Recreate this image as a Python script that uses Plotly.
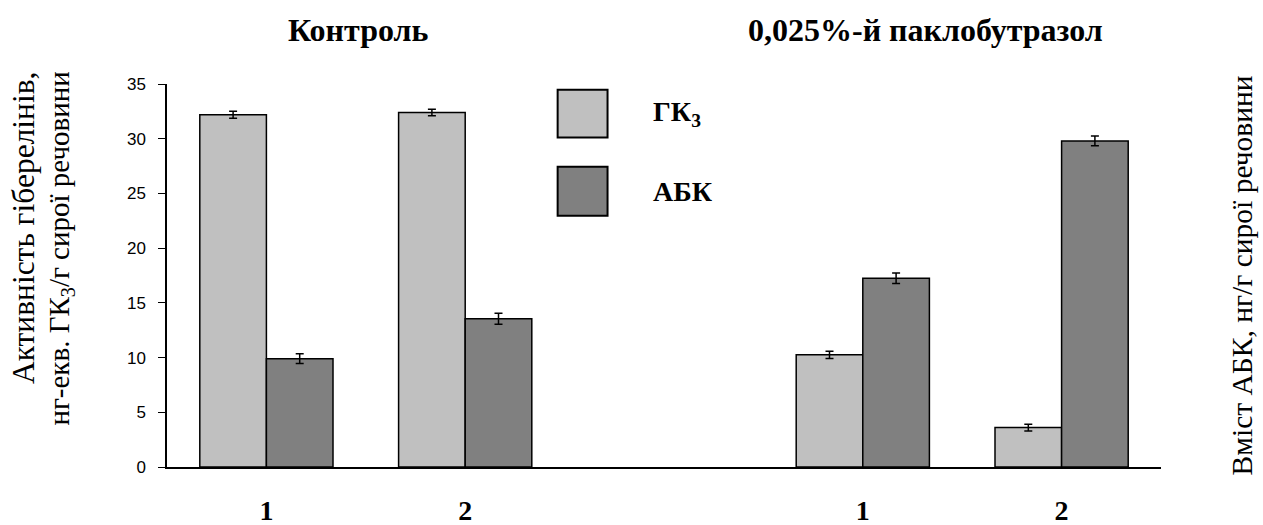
import plotly.graph_objects as go

# Category slots: control (1, 2), empty spacer slot, paclobutrazol (1, 2)
slot_pos = [0, 1, 3, 4]
slot_labels = ["1", "2", "1", "2"]

# Gibberellin activity (GA3 equivalents) and ABA content, ng/g fresh weight
ga3_values = [32.2, 32.4, 10.25, 3.6]
ga3_errors = [0.32, 0.3, 0.33, 0.3]
aba_values = [9.9, 13.55, 17.25, 29.8]
aba_errors = [0.45, 0.5, 0.47, 0.45]

ga3_name = "ГК<sub>3</sub>"
aba_name = "АБК"
group_titles = ["Контроль", "0,025%-й паклобутразол"]

light = "#c0c0c0"
dark = "#808080"
serif = "Liberation Serif"
sans = "Liberation Sans"

fig = go.Figure()
fig.add_trace(go.Bar(
    x=slot_pos, y=ga3_values, name=ga3_name,
    marker=dict(color=light, line=dict(color="black", width=1.5)),
    error_y=dict(type="data", array=ga3_errors, color="black", thickness=1.5, width=4),
))
fig.add_trace(go.Bar(
    x=slot_pos, y=aba_values, name=aba_name,
    marker=dict(color=dark, line=dict(color="black", width=1.5)),
    error_y=dict(type="data", array=aba_errors, color="black", thickness=1.5, width=4),
))

yticks = list(range(0, 36, 5))
axis_common = dict(range=[0, 35], tickvals=yticks, showgrid=False, zeroline=False,
                   tickcolor="black", tickwidth=1, automargin=False)

fig.update_layout(
    width=1263, height=525,
    margin=dict(l=167, r=102, t=84, b=58),
    paper_bgcolor="white", plot_bgcolor="white",
    barmode="group", bargap=0.33, bargroupgap=0,
    showlegend=False,
    xaxis=dict(range=[-0.5, 4.5], tickvals=slot_pos,
               ticktext=[f"<b>{t}</b>" for t in slot_labels],
               showline=True, linecolor="black", linewidth=1.5, ticks="",
               showgrid=False, zeroline=False, ticklabelstandoff=18, automargin=False,
               tickfont=dict(family=serif, size=28, color="black")),
    yaxis=dict(**axis_common, side="left", showline=True, linecolor="black", linewidth=1.5,
               ticks="outside", ticklen=7, ticklabelstandoff=9,
               tickfont=dict(family=sans, size=17, color="black")),
    yaxis3=dict(**axis_common, side="left", overlaying="y", anchor="x",
                ticks="inside", ticklen=6, showticklabels=False, showline=False),
    yaxis2=dict(**axis_common, side="right", overlaying="y", anchor="x",
                showline=True, linecolor="black", linewidth=1.5,
                ticks="outside", ticklen=7, ticklabelstandoff=6,
                tickfont=dict(family=sans, size=17, color="black")),
    yaxis4=dict(**axis_common, side="right", overlaying="y", anchor="x",
                ticks="inside", ticklen=7, showticklabels=False, showline=False),
)

# Group headings
for xp, txt in zip([0.1925, 0.7633], group_titles):
    fig.add_annotation(x=xp, y=1.1417, xref="paper", yref="paper", text=f"<b>{txt}</b>",
                       showarrow=False, xanchor="center", yanchor="middle",
                       font=dict(family=serif, size=32, color="black"))

# Axis titles
fig.add_annotation(x=-0.1437, y=1.038, xref="paper", yref="paper",
                   text="Активність гіберелінів,", textangle=-90, showarrow=False,
                   xanchor="center", yanchor="top",
                   font=dict(family=serif, size=31.5, color="black"))
fig.add_annotation(x=-0.1065, y=1.038, xref="paper", yref="paper",
                   text="нг-екв. ГК<sub>3</sub>/г сирої речовини", textangle=-90, showarrow=False,
                   xanchor="center", yanchor="top",
                   font=dict(family=serif, size=29, color="black"))
fig.add_annotation(x=1.0814, y=0.5, xref="paper", yref="paper",
                   text="Вміст АБК, нг/г сирої речовини", textangle=-90, showarrow=False,
                   xanchor="center", yanchor="middle",
                   font=dict(family=serif, size=29.5, color="black"))

# Legend: large swatches with bold labels
legend_items = [(ga3_name, light, 0.985, 0.860), (aba_name, dark, 0.784, 0.656)]
for name, color, y1, y0 in legend_items:
    fig.add_shape(type="rect", xref="paper", yref="paper", x0=0.393, x1=0.4432, y0=y0, y1=y1,
                  fillcolor=color, line=dict(color="black", width=2))
    fig.add_annotation(x=0.4874, y=(y0 + y1) / 2, xref="paper", yref="paper",
                       text=f"<b>{name}</b>", showarrow=False, xanchor="left", yanchor="middle",
                       font=dict(family=serif, size=28, color="black"))

fig.write_html("out.html")
